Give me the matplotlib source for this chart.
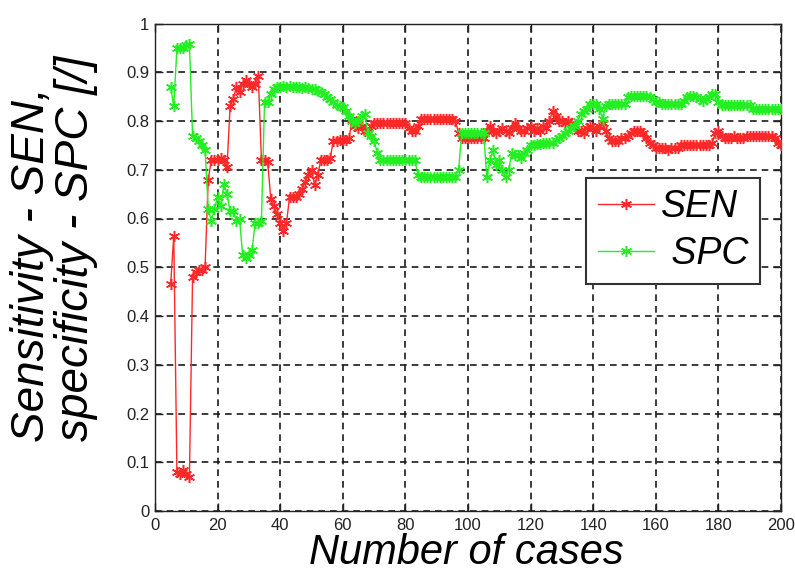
import matplotlib
matplotlib.use("Agg")
import matplotlib.pyplot as plt

cases = list(range(5, 201))

sen = [
    0.465, 0.565, 0.08, 0.075, 0.085, 0.075, 0.07, 0.48, 0.49, 0.495,
    0.495, 0.50, 0.68, 0.72, 0.72, 0.72, 0.725, 0.72, 0.705, 0.83,
    0.845, 0.87, 0.86, 0.875, 0.885, 0.875, 0.87, 0.875, 0.893, 0.72,
    0.72, 0.715, 0.64, 0.625, 0.61, 0.59, 0.575, 0.59, 0.645, 0.645,
    0.645, 0.65, 0.66, 0.675, 0.69, 0.70, 0.668, 0.69, 0.72, 0.72,
    0.72, 0.725, 0.76, 0.76, 0.762, 0.762, 0.762, 0.765, 0.805, 0.79,
    0.785, 0.79, 0.78, 0.778, 0.79, 0.795, 0.795, 0.795, 0.795, 0.795,
    0.795, 0.795, 0.795, 0.795, 0.795, 0.795, 0.785, 0.78, 0.78, 0.79,
    0.805, 0.805, 0.805, 0.805, 0.805, 0.805, 0.805, 0.805, 0.805, 0.805,
    0.805, 0.80, 0.775, 0.765, 0.765, 0.765, 0.765, 0.765, 0.765, 0.765,
    0.765, 0.78, 0.79, 0.78, 0.775, 0.78, 0.785, 0.78, 0.775, 0.785,
    0.795, 0.785, 0.78, 0.78, 0.785, 0.79, 0.78, 0.785, 0.78, 0.79,
    0.785, 0.80, 0.82, 0.81, 0.80, 0.80, 0.795, 0.80, 0.795, 0.79,
    0.78, 0.78, 0.775, 0.785, 0.79, 0.785, 0.78, 0.79, 0.795, 0.78,
    0.765, 0.76, 0.76, 0.76, 0.765, 0.765, 0.77, 0.775, 0.78, 0.78,
    0.78, 0.775, 0.765, 0.755, 0.75, 0.745, 0.745, 0.745, 0.745, 0.74,
    0.745, 0.745, 0.745, 0.75, 0.75, 0.75, 0.75, 0.75, 0.75, 0.75,
    0.75, 0.75, 0.75, 0.755, 0.775, 0.78, 0.77, 0.765, 0.765, 0.765,
    0.77, 0.765, 0.765, 0.765, 0.77, 0.77, 0.77, 0.77, 0.77, 0.77,
    0.77, 0.77, 0.77, 0.765, 0.755, 0.75,
]

spc = [
    0.87, 0.83, 0.95, 0.95, 0.95, 0.955, 0.958, 0.77, 0.765, 0.76,
    0.75, 0.74, 0.62, 0.595, 0.62, 0.645, 0.625, 0.67, 0.65, 0.615,
    0.615, 0.595, 0.60, 0.525, 0.52, 0.525, 0.535, 0.59, 0.59, 0.595,
    0.84, 0.84, 0.855, 0.865, 0.87, 0.87, 0.872, 0.87, 0.872, 0.87,
    0.87, 0.87, 0.868, 0.87, 0.868, 0.865, 0.865, 0.862, 0.86, 0.855,
    0.85, 0.845, 0.838, 0.832, 0.83, 0.828, 0.82, 0.81, 0.80, 0.795,
    0.80, 0.81, 0.815, 0.775, 0.77, 0.76, 0.735, 0.72, 0.72, 0.72,
    0.72, 0.72, 0.72, 0.72, 0.72, 0.72, 0.72, 0.72, 0.72, 0.69,
    0.685, 0.685, 0.685, 0.685, 0.685, 0.685, 0.685, 0.685, 0.685, 0.685,
    0.685, 0.685, 0.70, 0.775, 0.775, 0.775, 0.775, 0.775, 0.775, 0.775,
    0.775, 0.685, 0.72, 0.74, 0.71, 0.72, 0.70, 0.685, 0.70, 0.735,
    0.73, 0.73, 0.725, 0.735, 0.74, 0.75, 0.75, 0.752, 0.752, 0.755,
    0.755, 0.755, 0.755, 0.762, 0.765, 0.77, 0.775, 0.78, 0.785, 0.79,
    0.80, 0.815, 0.82, 0.825, 0.835, 0.835, 0.835, 0.825, 0.805, 0.83,
    0.835, 0.835, 0.835, 0.835, 0.835, 0.835, 0.85, 0.852, 0.852, 0.852,
    0.852, 0.852, 0.852, 0.85, 0.846, 0.84, 0.838, 0.835, 0.835, 0.835,
    0.835, 0.835, 0.835, 0.835, 0.842, 0.85, 0.852, 0.852, 0.85, 0.845,
    0.842, 0.845, 0.85, 0.856, 0.856, 0.84, 0.832, 0.832, 0.832, 0.832,
    0.832, 0.832, 0.832, 0.832, 0.832, 0.832, 0.825, 0.825, 0.825, 0.825,
    0.825, 0.825, 0.825, 0.825, 0.825, 0.825,
]

xticks = list(range(0, 201, 20))
yticks = [i / 10 for i in range(0, 11)]
xtick_labels = [str(v) for v in xticks]
ytick_labels = ["0", "0.1", "0.2", "0.3", "0.4", "0.5", "0.6", "0.7", "0.8", "0.9", "1"]

plt.rcParams['font.family'] = ['Liberation Sans', 'DejaVu Sans']

W, H = 795, 574
fig = plt.figure(figsize=(W / 100, H / 100), dpi=100)
ax = fig.add_axes([155 / W, 1 - 511 / H, (781 - 155) / W, (511 - 23.5) / H])

star = (6, 2, 0)
ax.plot(cases, sen, color='#ff2828', lw=1.0, marker=star, ms=8, mew=1.1, label='SEN', zorder=3)
ax.plot(cases, spc, color='#22ee22', lw=1.0, marker=star, ms=8, mew=1.1, label=' SPC', zorder=3)

ax.set_xlim(0, 200)
ax.set_ylim(0, 1)
ax.set_xticks(xticks)
ax.set_xticklabels(xtick_labels)
ax.set_yticks(yticks)
ax.set_yticklabels(ytick_labels)
ax.tick_params(direction='in', length=6, width=1, top=True, right=True,
               labelsize=12, colors='#222222')
ax.tick_params(axis='y', pad=4)
ax.tick_params(axis='x', pad=5)
for s in ax.spines.values():
    s.set_color('#222222')
    s.set_linewidth(1.0)
ax.grid(True, color='#1a1a1a', linestyle=(0, (4, 3)), linewidth=1.2)
ax.set_axisbelow(True)

fig.text(466 / W, 1 - 564 / H, 'Number of cases', fontsize=30, style='italic',
         ha='center', va='baseline')
fig.text(44 / W, 1 - 265 / H, 'Sensitivity - SEN,', fontsize=33, style='italic',
         rotation=90, rotation_mode='anchor', ha='center', va='baseline')
fig.text(88 / W, 1 - 248 / H, 'specificity - SPC [/]', fontsize=33, style='italic',
         rotation=90, rotation_mode='anchor', ha='center', va='baseline')

leg = ax.legend(loc='upper right', bbox_to_anchor=(760 / W, 1 - 178 / H),
                bbox_transform=fig.transFigure, prop={'style': 'italic', 'size': 27},
                handlelength=1.5, handletextpad=0.2, borderpad=0.3, labelspacing=0.3,
                borderaxespad=0, fancybox=False, framealpha=1, edgecolor='#333333')
leg.get_frame().set_linewidth(1.5)

fig.savefig('out.png', dpi=100)
